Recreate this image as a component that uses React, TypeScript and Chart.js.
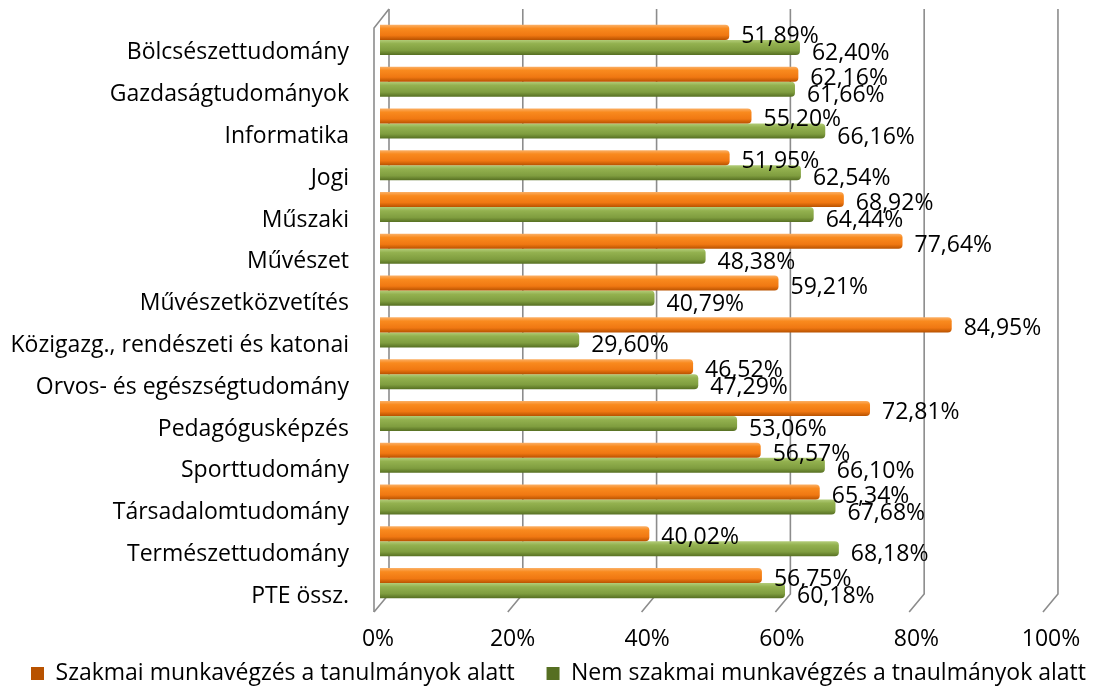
import React, { useEffect, useRef } from "react";
import { Chart, registerables } from "chart.js";

Chart.register(...registerables);

const categories = [
  "Bölcsészettudomány",
  "Gazdaságtudományok",
  "Informatika",
  "Jogi",
  "Műszaki",
  "Művészet",
  "Művészetközvetítés",
  "Közigazg., rendészeti és katonai",
  "Orvos- és egészségtudomány",
  "Pedagógusképzés",
  "Sporttudomány",
  "Társadalomtudomány",
  "Természettudomány",
  "PTE össz.",
];

const szakmaiValues = [51.89, 62.16, 55.2, 51.95, 68.92, 77.64, 59.21, 84.95, 46.52, 72.81, 56.57, 65.34, 40.02, 56.75];
const nemSzakmaiValues = [62.4, 61.66, 66.16, 62.54, 64.44, 48.38, 40.79, 29.6, 47.29, 53.06, 66.1, 67.68, 68.18, 60.18];

const seriesNames = [
  "Szakmai munkavégzés a tanulmányok alatt",
  "Nem szakmai munkavégzés a tnaulmányok alatt",
];

const xTicks = [0, 20, 40, 60, 80, 100];

const FONT = "'Open Sans', sans-serif";

const orangeStops = ["#fbb066", "#f98a1e", "#f07812", "#b85200"];
const greenStops = ["#b2cc78", "#93b14f", "#7f9d3f", "#566f22"];

function gradientFill(stops: string[], solid: string, datasetIndex: number) {
  return (ctx: any) => {
    if (ctx.type !== "data") return solid;
    const chart = ctx.chart;
    const yScale = chart.scales.y;
    if (!yScale) return solid;
    const band = Math.abs(yScale.getPixelForValue(1) - yScale.getPixelForValue(0));
    const thick = (band * 0.72) / 2;
    const center = yScale.getPixelForValue(ctx.dataIndex) + (datasetIndex === 0 ? -thick / 2 : thick / 2);
    const top = center - thick / 2;
    const bottom = center + thick / 2;
    if (!isFinite(top) || !isFinite(bottom)) return solid;
    const g = chart.ctx.createLinearGradient(0, top, 0, bottom);
    g.addColorStop(0, stops[0]);
    g.addColorStop(0.25, stops[1]);
    g.addColorStop(0.7, stops[2]);
    g.addColorStop(1, stops[3]);
    return g;
  };
}

const wallsPlugin = {
  id: "walls3d",
  beforeDatasetsDraw(chart: any) {
    const { ctx, chartArea } = chart;
    const xs = chart.scales.x;
    const left = chartArea.left;
    const backTop = 9;
    const backBottom = 594;
    const frontBottom = 612;
    const depthX = 15;
    ctx.save();
    ctx.strokeStyle = "#8c8c8c";
    ctx.lineWidth = 1.6;
    xTicks.forEach((v) => {
      const px = xs.getPixelForValue(v);
      const back = left + 9 + (px - left) * 0.994;
      ctx.beginPath();
      ctx.moveTo(back, backTop);
      ctx.lineTo(back, backBottom);
      ctx.lineTo(back - depthX, frontBottom);
      ctx.stroke();
    });
    const back0 = left + 9;
    ctx.beginPath();
    ctx.moveTo(back0, backTop);
    ctx.lineTo(back0 - depthX, backTop + 19);
    ctx.lineTo(back0 - depthX, frontBottom);
    ctx.stroke();
    ctx.restore();
  },
};

const dataLabelPlugin = {
  id: "valueLabels",
  afterDatasetsDraw(chart: any) {
    const { ctx } = chart;
    ctx.save();
    ctx.font = `23px ${FONT}`;
    ctx.fillStyle = "#000";
    ctx.textAlign = "left";
    ctx.textBaseline = "middle";
    chart.data.datasets.forEach((ds: any, i: number) => {
      const meta = chart.getDatasetMeta(i);
      meta.data.forEach((el: any, j: number) => {
        const v = ds.data[j] as number;
        const txt = v.toFixed(2).replace(".", ",") + "%";
        ctx.fillText(txt, el.x + 12, el.y + (i === 0 ? 4 : 6));
      });
    });
    ctx.restore();
  },
};

export default function App() {
  const canvasRef = useRef<HTMLCanvasElement | null>(null);

  useEffect(() => {
    if (!canvasRef.current) return;
    Chart.defaults.font.family = FONT;
    Chart.defaults.color = "#000";
    const chart = new Chart(canvasRef.current, {
      type: "bar",
      data: {
        labels: categories,
        datasets: [
          {
            label: seriesNames[0],
            data: szakmaiValues,
            backgroundColor: gradientFill(orangeStops, "#e46c0a", 0),
            borderWidth: 0,
            borderRadius: 4,
            borderSkipped: "start",
            categoryPercentage: 0.72,
            barPercentage: 1,
          },
          {
            label: seriesNames[1],
            data: nemSzakmaiValues,
            backgroundColor: gradientFill(greenStops, "#77933c", 1),
            borderWidth: 0,
            borderRadius: 4,
            borderSkipped: "start",
            categoryPercentage: 0.72,
            barPercentage: 1,
          },
        ],
      },
      options: {
        indexAxis: "y",
        responsive: false,
        animation: false,
        layout: { padding: { top: 19, right: 0, left: 0, bottom: 0 } },
        scales: {
          x: {
            min: 0,
            max: 100,
            grid: { display: false, drawTicks: false },
            border: { display: false },
            afterFit: (scale: any) => {
              scale.height = 50;
              scale.paddingLeft = 0;
              scale.paddingRight = 0;
            },
            afterBuildTicks: (scale: any) => {
              scale.ticks = xTicks.map((v) => ({ value: v }));
            },
            ticks: {
              padding: 22,
              labelOffset: -2,
              font: { size: 23, family: FONT },
              color: "#000",
              callback: (v: any) => `${v}%`,
            },
          },
          y: {
            grid: { display: false, drawTicks: false },
            border: { display: false },
            afterFit: (scale: any) => {
              scale.width = 380;
              scale.paddingTop = 0;
              scale.paddingBottom = 0;
            },
            ticks: {
              padding: 31,
              labelOffset: 13,
              font: { size: 23, family: FONT },
              color: "#000",
              autoSkip: false,
            },
          },
          yRight: {
            type: "category",
            position: "right",
            grid: { display: false, drawTicks: false },
            border: { display: false },
            ticks: { display: false },
            afterFit: (scale: any) => {
              scale.width = 41;
              scale.paddingTop = 0;
              scale.paddingBottom = 0;
            },
          },
        },
        plugins: {
          legend: {
            position: "bottom",
            align: "end",
            maxHeight: 35,
            labels: {
              boxWidth: 13,
              boxHeight: 13,
              padding: 8,
              color: "#000",
              font: { size: 23, family: FONT },
              generateLabels: (c: any) => {
                const items = (Chart.defaults.plugins.legend.labels as any).generateLabels(c);
                if (items.length > 0) items[0].text = items[0].text + "    ";
                return items;
              },
            },
          },
          tooltip: { enabled: false },
        },
      },
      plugins: [wallsPlugin, dataLabelPlugin],
    } as any);
    return () => chart.destroy();
  }, []);

  return (
    <div style={{ position: "absolute", left: 0, top: 0, width: 1094, height: 689, background: "#fff" }}>
      <canvas ref={canvasRef} width={1094} height={689} style={{ display: "block" }} />
    </div>
  );
}
